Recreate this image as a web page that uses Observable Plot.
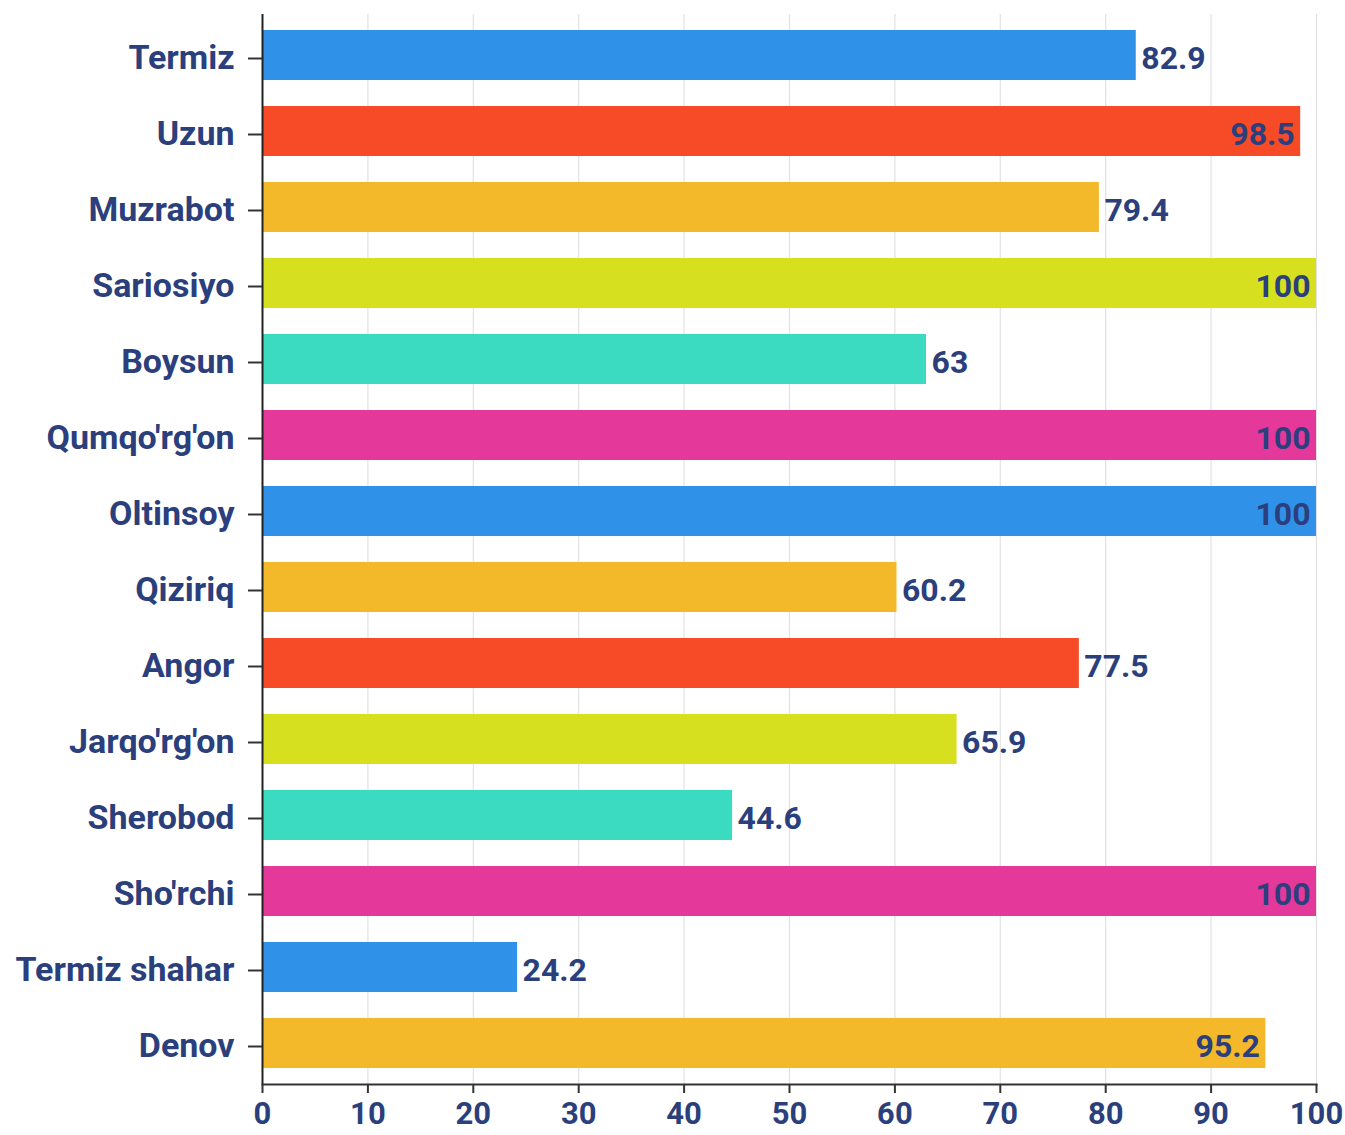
<!DOCTYPE html>
<html>
<head>
<meta charset="utf-8">
<script src="https://cdn.jsdelivr.net/npm/d3@7"></script>
<script src="https://cdn.jsdelivr.net/npm/@observablehq/plot@0.6"></script>
<style>
  html, body { margin: 0; padding: 0; background: #fff; }
  #chart svg { display: block; }
</style>
</head>
<body>
<div id="chart"></div>
<script>
const districts = ["Termiz", "Uzun", "Muzrabot", "Sariosiyo", "Boysun", "Qumqo'rg'on", "Oltinsoy", "Qiziriq", "Angor", "Jarqo'rg'on", "Sherobod", "Sho'rchi", "Termiz shahar", "Denov"];
const values = [82.9, 98.5, 79.4, 100, 63, 100, 100, 60.2, 77.5, 65.9, 44.6, 100, 24.2, 95.2];
const barColors = ["#2f91e8", "#f74b27", "#f3b92a", "#d6e01f", "#3bdbc1", "#e5389b", "#2f91e8", "#f3b92a", "#f74b27", "#d6e01f", "#3bdbc1", "#e5389b", "#2f91e8", "#f3b92a"];
const xTicks = [0, 10, 20, 30, 40, 50, 60, 70, 80, 90, 100];

const data = districts.map((d, i) => ({name: d, value: values[i], color: barColors[i]}));
const textColor = "#2b3f7c";
const inside = d => d.value >= 90;

const chart = Plot.plot({
  width: 1345,
  height: 1135,
  marginLeft: 262,
  marginRight: 29,
  marginTop: 14,
  marginBottom: 51,
  style: {fontFamily: "Roboto, sans-serif", background: "#fff"},
  x: {domain: [0, 100]},
  y: {domain: districts, paddingInner: 0.345, paddingOuter: 0.175},
  marks: [
    Plot.ruleX(xTicks.filter(t => t > 0), {stroke: "#e2e2e2", strokeWidth: 1.2}),
    Plot.barX(data, {x: "value", y: "name", fill: "color"}),
    Plot.ruleX([0], {stroke: "#222", strokeWidth: 2}),
    Plot.frame({anchor: "bottom", stroke: "#333", strokeWidth: 2}),
    Plot.axisX({ticks: xTicks, tickSize: 9, tickPadding: 8, stroke: "#333", strokeWidth: 2, fill: textColor, fontSize: 31, fontWeight: "bold", label: null, tickFormat: d => String(d), style: {letterSpacing: "-2px"}}),
    Plot.axisY({tickSize: 14, tickPadding: 14, dy: 3, stroke: "#333", strokeWidth: 2, fill: textColor, fontSize: 34, fontWeight: "bold", label: null}),
    Plot.text(data.filter(d => !inside(d)), {x: "value", y: "name", text: d => String(d.value), textAnchor: "start", dx: 5, dy: 3, fill: textColor, fontSize: 32, fontWeight: "bold"}),
    Plot.text(data.filter(inside), {x: "value", y: "name", text: d => String(d.value), textAnchor: "end", dx: -6, dy: 3, fill: textColor, fontSize: 32, fontWeight: "bold"})
  ]
});
document.getElementById("chart").appendChild(chart);
</script>
</body>
</html>
